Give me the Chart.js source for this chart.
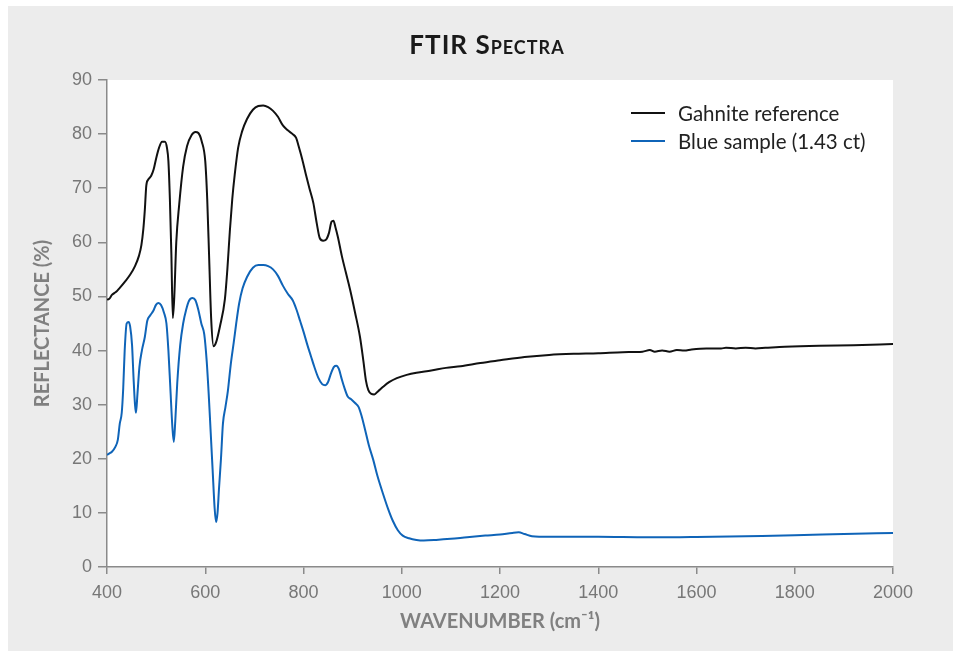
<!DOCTYPE html>
<html>
<head>
<meta charset="utf-8">
<script src="https://cdn.jsdelivr.net/npm/chart.js@4.4.1/dist/chart.umd.min.js"></script>
<style>
  html, body { margin: 0; padding: 0; background: #ffffff; width: 953px; height: 651px; overflow: hidden; }
  #panel { position: absolute; left: 8px; top: 6px; width: 945px; height: 645px; background: #ececec; }
  #chart { position: absolute; left: 0; top: 0; }
  #title { position: absolute; left: 0; width: 974px; top: 28px; text-align: center;
           font-family: Lato, "Open Sans", sans-serif; font-variant: small-caps;
           font-size: 26px; color: #1a1a1a; font-weight: bold; letter-spacing: 1px; }
  #legend { position: absolute; left: 631px; top: 99px; font-family: Lato, sans-serif; font-size: 20.5px; color: #222; }
  .item { height: 28px; display: flex; align-items: center; }
  .swatch { width: 34px; height: 2.5px; margin-right: 13px; }
</style>
</head>
<body>
<div id="panel"></div>
<canvas id="chart" width="953" height="651"></canvas>
<div id="title">FTIR Spectra</div>
<div id="legend"></div>
<script>
const seriesNames = ["Gahnite reference", "Blue sample (1.43 ct)"];
const seriesColors = ["#111111", "#0f64b8"];

const gahniteWn = [400,405,410,418,426,437,447,457,465,470,474,477,480,484,490,495,500,506,512,518,522,525,528,531,534,537,541,547,555,563,572,580,586,593,600,604,608,612,617,622,630,640,645,650,655,660,667,675,685,697,708,718,728,738,748,758,768,778,785,790,797,805,812,820,827,833,840,846,852,857,861,865,870,878,886,895,905,915,922,927,932,938,944,952,962,975,990,1010,1030,1060,1090,1120,1160,1200,1250,1300,1350,1400,1450,1490,1505,1515,1530,1545,1560,1575,1590,1620,1650,1660,1680,1700,1720,1740,1780,1850,1920,2000];
const gahniteR = [49.4,49.6,50.3,50.8,51.6,52.8,54.0,55.6,57.5,59.5,62.5,66,70.5,71.6,72.3,73.5,75.5,77.5,78.6,78.6,77.5,75,68,58,46,50,60,67,74,77.8,79.8,80.4,80.2,78.6,75,68,57,46,40.8,41.5,44.5,49.5,55,62,68,72.5,77.5,80.5,82.8,84.5,85.2,85.3,85.0,84.3,83.2,81.6,80.7,80.0,79.3,77.8,75.5,72.5,70,67.3,63.5,60.8,60.3,60.5,61.8,63.8,64.0,62.8,61.0,57.5,54.5,51.2,47,42.5,38,34.5,32.7,32.0,31.9,32.5,33.3,34.2,34.9,35.5,35.9,36.3,36.8,37.1,37.7,38.2,38.8,39.2,39.4,39.5,39.7,39.8,40.1,39.8,40.0,39.8,40.1,40.0,40.2,40.4,40.4,40.5,40.4,40.5,40.4,40.5,40.7,40.9,41.0,41.2];

const blueWn = [400,405,410,417,422,426,430,433,436,440,444,447,451,454,457,459,462,466,471,477,482,488,494,500,505,510,516,521,525,529,533,536,539,543,549,555,561,567,574,580,586,592,598,603,607,611,615,619,622,625,628,632,636,641,646,652,658,663,669,676,685,697,708,718,728,738,748,758,768,778,786,793,800,808,815,822,830,838,844,850,856,862,867,872,877,883,890,897,905,912,918,925,933,942,950,962,972,982,992,1002,1015,1030,1045,1070,1100,1133,1170,1200,1225,1238,1250,1265,1300,1400,1500,1550,1600,1700,1800,1900,2000];
const blueR = [20.7,21.0,21.3,22.2,23.5,26.5,28.5,33,40,45.0,45.3,44.5,41.0,35,30,28.5,32,37,40,42.5,45.5,46.5,47.3,48.5,48.8,48.4,47.0,45,40,33,26,23.1,27,34,41,45,47.5,49.2,49.7,49.3,47.5,45,43,38,32,25,18,11,8.3,10,14.5,20,26.5,29.5,32.5,37.5,41.5,45,48.7,51.5,53.6,55.3,55.8,55.8,55.6,55,53.8,52,50.5,49.3,47.5,45.5,43.5,41,39,37,35,33.8,33.6,34.2,35.8,37,37.2,36.6,35,33.2,31.5,31,30.3,29.6,28,25.5,22.5,19.8,17,13.5,10.8,8.5,6.8,5.8,5.3,5.0,4.9,5.0,5.2,5.5,5.8,6.0,6.3,6.4,6.1,5.7,5.6,5.6,5.5,5.5,5.55,5.7,5.85,6.1,6.3];

const xTicks = [400,600,800,1000,1200,1400,1600,1800,2000];
const yTicks = [0,10,20,30,40,50,60,70,80,90];

const toPoints = (xs, ys) => xs.map((x, i) => ({x: x, y: ys[i]}));

const whiteArea = {
  id: 'whiteArea',
  beforeDraw(chart) {
    const {ctx, chartArea: a} = chart;
    ctx.save();
    ctx.fillStyle = '#ffffff';
    ctx.fillRect(a.left, a.top, a.right - a.left, a.bottom - a.top);
    ctx.restore();
  }
};

const tickFont = { family: "'Liberation Sans', Arial, sans-serif", size: 18 };
const titleFont = { family: "Lato, sans-serif", size: 20, weight: 'bold' };

new Chart(document.getElementById('chart'), {
  type: 'line',
  data: {
    datasets: [
      { label: seriesNames[0], data: toPoints(gahniteWn, gahniteR), borderColor: seriesColors[0], borderWidth: 2, pointRadius: 0, cubicInterpolationMode: 'monotone', fill: false },
      { label: seriesNames[1], data: toPoints(blueWn, blueR), borderColor: seriesColors[1], borderWidth: 2, pointRadius: 0, cubicInterpolationMode: 'monotone', fill: false }
    ]
  },
  options: {
    responsive: false,
    animation: false,
    layout: { padding: { left: 0, top: 80, right: 60, bottom: 0 } },
    plugins: { legend: { display: false }, title: { display: false }, tooltip: { enabled: false } },
    scales: {
      x: {
        type: 'linear', min: 400, max: 2000,
        afterFit: s => { s.height = 84; },
        afterBuildTicks: s => { s.ticks = xTicks.map(v => ({value: v})); },
        grid: { drawOnChartArea: false, drawTicks: true, tickLength: 7, color: '#8a8a8a', lineWidth: 1.5 },
        border: { display: true, color: '#8a8a8a', width: 1.5 },
        ticks: { font: tickFont, color: '#777777', padding: 8, maxRotation: 0, callback: v => String(v) },
        title: { display: true, text: 'WAVENUMBER (cm⁻¹)', font: titleFont, color: '#808080', padding: { top: 0, bottom: 17 } }
      },
      y: {
        min: 0, max: 90,
        afterFit: s => { s.width = 107; },
        afterBuildTicks: s => { s.ticks = yTicks.map(v => ({value: v})); },
        grid: { drawOnChartArea: false, drawTicks: true, tickLength: 9, color: '#8a8a8a', lineWidth: 1.5 },
        border: { display: true, color: '#8a8a8a', width: 1.5 },
        ticks: { font: tickFont, color: '#777777', padding: 6, callback: v => String(v) },
        title: { display: true, text: 'REFLECTANCE (%)', font: titleFont, color: '#808080', padding: { top: 31, bottom: 0 } }
      }
    }
  },
  plugins: [whiteArea]
});

const legend = document.getElementById('legend');
seriesNames.forEach((name, i) => {
  const row = document.createElement('div');
  row.className = 'item';
  const sw = document.createElement('div');
  sw.className = 'swatch';
  sw.style.background = seriesColors[i];
  const tx = document.createElement('span');
  tx.textContent = name;
  row.appendChild(sw); row.appendChild(tx);
  legend.appendChild(row);
});
</script>
</body>
</html>
